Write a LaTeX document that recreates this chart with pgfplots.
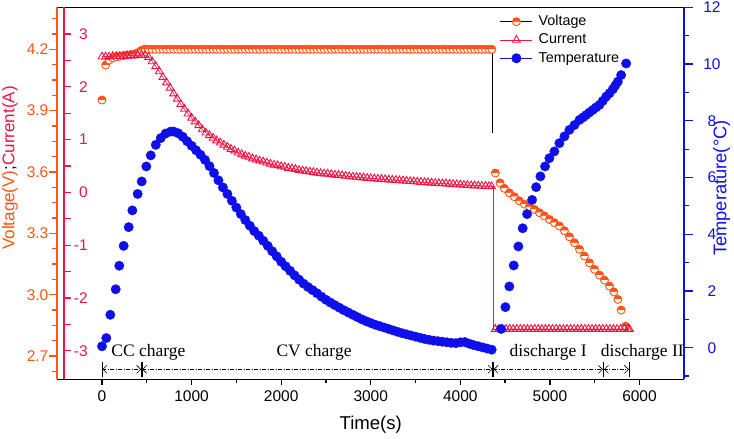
\documentclass[border=0pt]{standalone}
\usepackage{fontspec}
\setmainfont{Liberation Sans}
\newfontfamily\serifft{Liberation Serif}
\usepackage{pgfplots}
\pgfplotsset{compat=1.18}
\usepackage{pgfplotstable}
\usetikzlibrary{arrows.meta}
\definecolor{vorange}{RGB}{255,85,20}
\definecolor{cred}{RGB}{240,20,70}
\definecolor{tblue}{RGB}{15,15,235}

\pgfplotstableread{
t v
0 3.952
41 4.123
80 4.148
120 4.158
160 4.163
200 4.166
240 4.169
280 4.172
320 4.174
360 4.177
400 4.184
440 4.195
480 4.201
520 4.2
}\voltstart

\pgfplotstableread{
t v
4391 3.595
4443 3.547
4492 3.520
4547 3.498
4603 3.479
4659 3.459
4715 3.443
4771 3.430
4827 3.417
4883 3.401
4939 3.385
4994 3.368
5050 3.352
5106 3.336
5162 3.313
5218 3.283
5274 3.254
5330 3.222
5385 3.189
5441 3.156
5497 3.124
5553 3.096
5609 3.071
5665 3.042
5713 3.014
5758 2.977
5795 2.925
5844 2.846
}\voltdis

\pgfplotstableread{
t c
0 2.57
40 2.57
80 2.57
120 2.58
160 2.58
200 2.58
240 2.58
280 2.59
320 2.59
360 2.59
400 2.60
440 2.60
480 2.60
520 2.56
560 2.48
600 2.39
640 2.29
680 2.18
720 2.08
760 1.98
800 1.87
840 1.77
880 1.67
920 1.58
960 1.49
1000 1.41
1040 1.34
1080 1.27
1120 1.19
1160 1.13
1200 1.08
1240 1.03
1280 0.98
1320 0.94
1360 0.90
1400 0.86
1440 0.82
1480 0.79
1520 0.75
1560 0.72
1600 0.69
1640 0.67
1680 0.64
1720 0.62
1760 0.60
1800 0.58
1840 0.56
1880 0.54
1920 0.52
1960 0.51
2000 0.49
2040 0.48
2080 0.46
2120 0.45
2160 0.44
2200 0.42
2240 0.41
2280 0.40
2320 0.39
2360 0.38
2400 0.37
2440 0.36
2480 0.355
2520 0.35
2560 0.34
2600 0.33
2640 0.325
2680 0.32
2720 0.31
2760 0.30
2800 0.295
2840 0.29
2880 0.285
2920 0.28
2960 0.27
3000 0.265
3040 0.26
3080 0.255
3120 0.25
3160 0.245
3200 0.24
3240 0.235
3280 0.23
3320 0.225
3360 0.22
3400 0.215
3440 0.21
3480 0.205
3520 0.20
3560 0.195
3600 0.19
3640 0.185
3680 0.18
3720 0.175
3760 0.17
3800 0.168
3840 0.165
3880 0.16
3920 0.155
3960 0.15
4000 0.145
4040 0.14
4080 0.135
4120 0.13
4160 0.128
4200 0.125
4240 0.12
4280 0.118
4320 0.115
4350 0.11
}\curch

\pgfplotstableread{
t T
0 0.05
48 0.34
93 1.16
153 2.06
193 2.89
242 3.59
298 4.25
339 4.84
398 5.42
443 5.86
495 6.39
544 6.78
600 7.15
656 7.39
710 7.55
767 7.62
800 7.62
850 7.56
900 7.44
950 7.28
1000 7.12
1050 6.96
1100 6.80
1150 6.62
1200 6.40
1250 6.16
1300 5.90
1350 5.65
1400 5.42
1450 5.18
1500 4.94
1550 4.71
1600 4.50
1650 4.30
1700 4.11
1750 3.95
1800 3.77
1850 3.59
1900 3.40
1950 3.22
2000 3.03
2050 2.87
2100 2.71
2150 2.55
2200 2.40
2250 2.26
2300 2.14
2350 2.03
2400 1.92
2450 1.80
2500 1.69
2550 1.59
2600 1.50
2650 1.41
2700 1.32
2750 1.24
2800 1.16
2850 1.08
2900 1.00
2950 0.93
3000 0.87
3050 0.81
3100 0.76
3150 0.71
3200 0.66
3250 0.61
3300 0.56
3350 0.51
3400 0.47
3450 0.43
3500 0.39
3550 0.35
3600 0.31
3650 0.28
3700 0.25
3750 0.23
3800 0.21
3850 0.19
3900 0.17
3950 0.16
4000 0.19
4050 0.20
4100 0.14
4150 0.09
4200 0.05
4250 0.01
4300 -0.03
4350 -0.07
4455 0.66
4503 1.43
4547 2.16
4596 2.90
4648 3.57
4696 4.21
4745 4.71
4801 5.21
4846 5.66
4894 6.04
4946 6.39
4994 6.68
5050 6.92
5106 7.21
5162 7.45
5218 7.68
5274 7.85
5330 8.03
5370 8.12
5404 8.20
5440 8.29
5478 8.38
5515 8.47
5553 8.56
5590 8.70
5628 8.85
5665 8.97
5702 9.11
5730 9.24
5758 9.38
5795 9.61
5851 10.02
}\temp

\begin{document}
\begin{tikzpicture}
\pgfplotsset{
  base/.style={scale only axis, width=627.1pt, height=372pt,
    xmin=-500, xmax=6500, at={(0pt,0pt)}, anchor=south west,
    /pgf/number format/assume math mode=true,
    /pgf/number format/1000 sep={},
    tick label style={font=\fontsize{15.5}{18}\selectfont},
    clip=false},
  vmark/.style={mark=halfcircle*, mark size=4pt,
    mark options={draw=vorange, fill=vorange, mark color=white, line width=0.9pt, solid}},
  cmark/.style={mark=triangle, mark size=4.5pt,
    mark options={draw=cred, line width=0.9pt, solid}},
  tmark/.style={mark=*, mark size=4.7pt, mark options={draw=tblue, fill=tblue, solid}},
}
% x axis, frame and annotations
\begin{axis}[base, ymin=0, ymax=1, axis x line*=bottom, hide y axis,
  xtick={0,1000,2000,3000,4000,5000,6000},
  minor xtick={500,1500,2500,3500,4500,5500},
  tick align=outside, major tick length=6pt, minor tick length=4pt,
  x axis line style={line width=1.3pt},
  xtick style={line width=1.3pt, black},
  xticklabel style={anchor=north, yshift=-2pt},
]
\addplot[draw=none] coordinates {(0,0.5)};
\draw[line width=1pt] (rel axis cs:0,1) -- (rel axis cs:1,1);
\node[font=\fontsize{18.6}{20}\selectfont] at ([yshift=-45pt]rel axis cs:0.5,0) {Time(s)};
\begin{scope}[line width=0.6pt, dash pattern=on 4pt off 1.5pt on 1pt off 1.5pt]
\draw[{Bar[width=15pt]Straight Barb[length=4pt,width=8pt]}-{Straight Barb[length=4pt,width=8pt]Bar[width=15pt]}] (axis cs:0,0.0269) -- (axis cs:443,0.0269);
\draw[{Bar[width=15pt]Straight Barb[length=4pt,width=8pt]}-{Straight Barb[length=4pt,width=8pt]Bar[width=15pt]}] (axis cs:443,0.0269) -- (axis cs:4365,0.0269);
\draw[{Bar[width=15pt]Straight Barb[length=4pt,width=8pt]}-{Straight Barb[length=4pt,width=8pt]Bar[width=15pt]}] (axis cs:4365,0.0269) -- (axis cs:5598,0.0269);
\draw[{Bar[width=15pt]Straight Barb[length=4pt,width=8pt]}-{Straight Barb[length=4pt,width=8pt]Bar[width=15pt]}] (axis cs:5598,0.0269) -- (axis cs:5888,0.0269);
\end{scope}
\begin{scope}[font=\serifft\fontsize{17.5}{20}\selectfont]
\node[anchor=base] at (axis cs:518,0.0626) {CC charge};
\node[anchor=base] at (axis cs:2367,0.0626) {CV charge};
\node[anchor=base] at (axis cs:4980,0.0626) {discharge I};
\node[anchor=base] at (axis cs:6032,0.0626) {discharge II};
\end{scope}
\end{axis}
% voltage
\begin{axis}[base, ymin=2.5863, ymax=4.4054, hide x axis, axis y line*=left,
  ytick={2.7,3.0,3.3,3.6,3.9,4.2},
  minor ytick={2.625,2.775,2.85,2.925,3.075,3.15,3.225,3.375,3.45,3.525,3.675,3.75,3.825,3.975,4.05,4.125,4.275,4.35},
  tick align=outside, major tick length=8pt, minor tick length=5pt,
  y axis line style={vorange, line width=1.6pt},
  ytick style={vorange, line width=1.2pt},
  yticklabel style={vorange, xshift=2.7pt},
  yticklabel={\pgfmathprintnumber[fixed,fixed zerofill,precision=1]{\tick}},
]
\node[rotate=90, font=\fontsize{17}{20}\selectfont] at ([xshift=-47.2pt]rel axis cs:0,0.568)
  {\textcolor{vorange}{Voltage(V)}\textcolor{black}{;}\textcolor{cred}{Current(A)}};
\addplot[only marks, vmark] table[x=t,y=v] {\voltstart};
\addplot[only marks, vmark] coordinates {
(560,4.2)(600,4.2)(640,4.2)(680,4.2)(720,4.2)(760,4.2)(800,4.2)(840,4.2)(880,4.2)(920,4.2)
(960,4.2)(1000,4.2)(1040,4.2)(1080,4.2)(1120,4.2)(1160,4.2)(1200,4.2)(1240,4.2)(1280,4.2)(1320,4.2)
(1360,4.2)(1400,4.2)(1440,4.2)(1480,4.2)(1520,4.2)(1560,4.2)(1600,4.2)(1640,4.2)(1680,4.2)(1720,4.2)
(1760,4.2)(1800,4.2)(1840,4.2)(1880,4.2)(1920,4.2)(1960,4.2)(2000,4.2)(2040,4.2)(2080,4.2)(2120,4.2)
(2160,4.2)(2200,4.2)(2240,4.2)(2280,4.2)(2320,4.2)(2360,4.2)(2400,4.2)(2440,4.2)(2480,4.2)(2520,4.2)
(2560,4.2)(2600,4.2)(2640,4.2)(2680,4.2)(2720,4.2)(2760,4.2)(2800,4.2)(2840,4.2)(2880,4.2)(2920,4.2)
(2960,4.2)(3000,4.2)(3040,4.2)(3080,4.2)(3120,4.2)(3160,4.2)(3200,4.2)(3240,4.2)(3280,4.2)(3320,4.2)
(3360,4.2)(3400,4.2)(3440,4.2)(3480,4.2)(3520,4.2)(3560,4.2)(3600,4.2)(3640,4.2)(3680,4.2)(3720,4.2)
(3760,4.2)(3800,4.2)(3840,4.2)(3880,4.2)(3920,4.2)(3960,4.2)(4000,4.2)(4040,4.2)(4080,4.2)(4120,4.2)
(4160,4.2)(4200,4.2)(4240,4.2)(4280,4.2)(4320,4.2)(4352,4.2)};
\addplot[black, line width=0.6pt, no markers] coordinates {(4362,4.2)(4362,3.79)};
\addplot[only marks, vmark] table[x=t,y=v] {\voltdis};
\end{axis}
% current (axis line 6.8pt right of the frame)
\begin{axis}[base, xmin=-424.06, xmax=6575.94, at={(6.8pt,0pt)},
  ymin=-3.542, ymax=3.506, hide x axis, axis y line*=left,
  ytick={-3,-2,-1,0,1,2,3},
  minor ytick={-2.5,-1.5,-0.5,0.5,1.5,2.5},
  tick align=inside, major tick length=6.7pt, minor tick length=6.7pt,
  y axis line style={cred, line width=2pt},
  ytick style={cred, line width=1.2pt},
  yticklabel style={cred, anchor=east, xshift=27.2pt},
]
\addplot[cred, line width=0.6pt, cmark] table[x=t,y=c] {\curch};
\addplot[cred, line width=0.6pt, no markers] coordinates {(4350,0.11)(4365,0.11)(4365,-2.59)(4390,-2.59)};
\addplot[cred, line width=0.6pt, cmark] coordinates {
(4390,-2.59)(4430,-2.59)(4470,-2.59)(4510,-2.59)(4550,-2.59)(4590,-2.59)(4630,-2.59)(4670,-2.59)
(4710,-2.59)(4750,-2.59)(4790,-2.59)(4830,-2.59)(4870,-2.59)(4910,-2.59)(4950,-2.59)(4990,-2.59)
(5030,-2.59)(5070,-2.59)(5110,-2.59)(5150,-2.59)(5190,-2.59)(5230,-2.59)(5270,-2.59)(5310,-2.59)
(5350,-2.59)(5390,-2.59)(5430,-2.59)(5470,-2.59)(5510,-2.59)(5550,-2.59)(5590,-2.59)(5630,-2.59)
(5670,-2.59)(5710,-2.59)(5750,-2.59)(5790,-2.59)(5830,-2.59)(5870,-2.59)(5888,-2.59)};
\end{axis}
% temperature
\begin{axis}[base, ymin=-1.114, ymax=12, hide x axis, axis y line*=right,
  ytick={0,2,4,6,8,10,12},
  minor ytick={-1,1,3,5,7,9,11},
  ytick pos=right,
  tick align=outside, major tick length=9pt, minor tick length=5pt,
  y axis line style={tblue, line width=2pt},
  ytick style={tblue, line width=1.2pt},
  yticklabel style={tblue, anchor=center, xshift=18.7pt},
  legend image code/.code={\draw[mark repeat=2,mark phase=2] plot coordinates {(0pt,0pt) (16pt,0pt) (32pt,0pt)};},
  legend style={at={(rel axis cs:0.706,0.98)}, anchor=north west, draw=none, fill=none,
    inner sep=0pt, row sep=4.8pt, column sep=6pt,
    font=\fontsize{14.3}{16}\selectfont,
    nodes={inner sep=0pt, text height=10.5pt, text depth=3pt}},
  legend cell align=left,
]
\node[rotate=90, tblue, font=\fontsize{18.3}{20}\selectfont] at ([xshift=37.4pt]rel axis cs:1,0.514) {Temperature(°C)};
\addlegendimage{black, line width=0.6pt, vmark}
\addlegendentry{Voltage}
\addlegendimage{cred, line width=0.6pt, cmark}
\addlegendentry{Current}
\addlegendimage{tblue, line width=0.6pt, tmark}
\addlegendentry{Temperature}
\addplot[only marks, tmark] table[x=t,y=T] {\temp};
\end{axis}
\pgfresetboundingbox
\useasboundingbox (-57.2pt,-59.7pt) rectangle (676.8pt,379.3pt);
\end{tikzpicture}
\end{document}
